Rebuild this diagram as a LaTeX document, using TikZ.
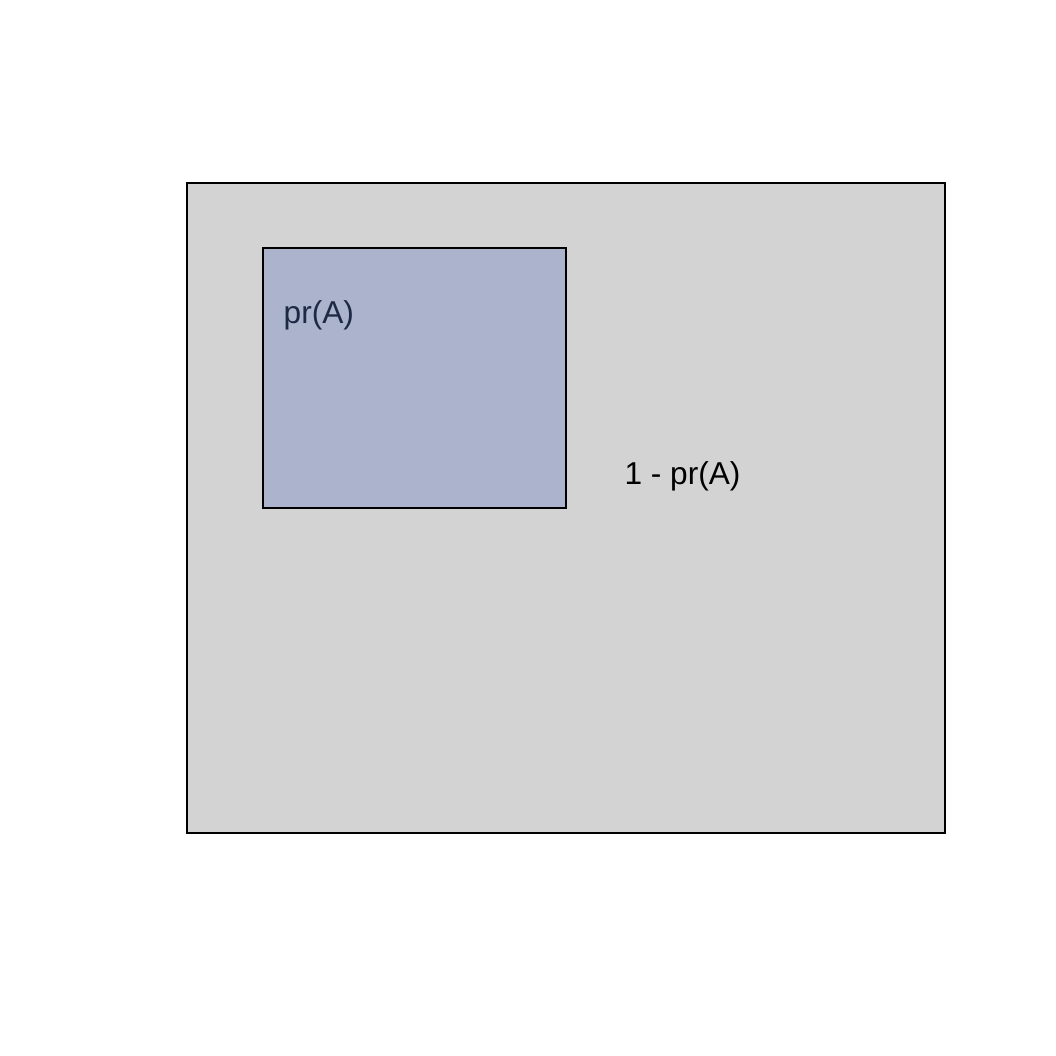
\documentclass[tikz,border=0pt]{standalone}
\usepackage{fontspec}
\setmainfont{Liberation Sans}
\usetikzlibrary{positioning}

\definecolor{spacegrey}{HTML}{D3D3D3}
\definecolor{eventblue}{HTML}{ABB3CD}
\definecolor{labelnavy}{HTML}{1E2A45}

\begin{document}
\begin{tikzpicture}[
    every node/.style={font=\fontsize{9}{11}\selectfont},
    region/.style={draw=black, line width=0.55pt, inner sep=0pt, outer sep=0pt}
]
    \useasboundingbox (0,0) rectangle (10.56,10.56);

    \node[region, fill=spacegrey, minimum width=7.58cm, minimum height=6.50cm] (S) at (5.66,5.48) {};
    \node[region, fill=eventblue, minimum width=3.03cm, minimum height=2.60cm] (A) at (4.145,6.78) {};

    \node[anchor=west, inner sep=0pt, text=labelnavy] (pA) at (2.83,7.41) {pr(A)};
    \node[inner sep=0pt] (notA) at (6.825,5.80) {1 - pr(A)};

\end{tikzpicture}
\end{document}
